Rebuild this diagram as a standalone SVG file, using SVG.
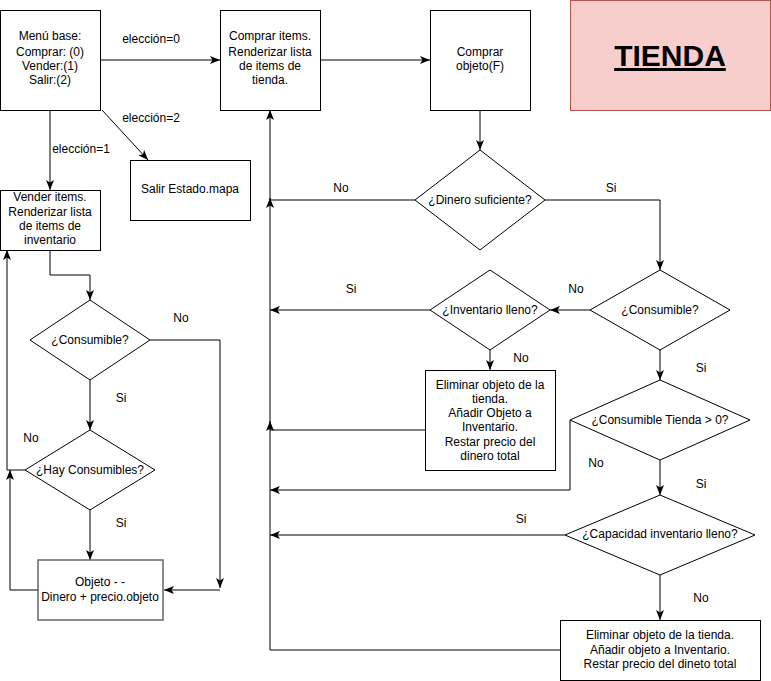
<svg xmlns="http://www.w3.org/2000/svg" width="771" height="681" viewBox="0 0 771 681">
<style>
.n{fill:#ffffff;stroke:#000000;stroke-width:1}
.g{fill:#ffffff;stroke:#666666;stroke-width:1.5}
.e{fill:none;stroke:#000000;stroke-width:1}
text{font-family:"Liberation Sans",Arial,sans-serif;font-size:12px;fill:#000000;text-anchor:middle}
.t{font-size:30px;font-weight:bold;text-decoration:underline}
</style>
<defs>
<marker id="a" markerUnits="userSpaceOnUse" viewBox="0 0 10 8" refX="10" refY="4" markerWidth="10" markerHeight="8" orient="auto">
<path d="M0,0 L10,4 L0,8 L2.5,4 Z" fill="#000000"/>
</marker>
</defs>
<rect width="771" height="681" fill="#ffffff"/>
<g id="edges">
<path class="e" d="M100,60 H220" marker-end="url(#a)"/>
<path class="e" d="M102,110 L148,160" marker-end="url(#a)"/>
<path class="e" d="M50,110 V190" marker-end="url(#a)"/>
<path class="e" d="M320,60 H430" marker-end="url(#a)"/>
<path class="e" d="M480,110 V150" marker-end="url(#a)"/>
<path class="e" d="M415,200 H270 V198" marker-end="url(#a)"/>
<path class="e" d="M545,200 H660 V270" marker-end="url(#a)"/>
<path class="e" d="M590,310 H550" marker-end="url(#a)"/>
<path class="e" d="M430,310 H270" marker-end="url(#a)"/>
<path class="e" d="M490,350 V370" marker-end="url(#a)"/>
<path class="e" d="M425,430 H270 V421" marker-end="url(#a)"/>
<path class="e" d="M660,350 V380" marker-end="url(#a)"/>
<path class="e" d="M570,420 V490 H270" marker-end="url(#a)"/>
<path class="e" d="M660,460 V495" marker-end="url(#a)"/>
<path class="e" d="M565,535 H270" marker-end="url(#a)"/>
<path class="e" d="M660,575 V620" marker-end="url(#a)"/>
<path class="e" d="M560,650 H270 V110" marker-end="url(#a)"/>
<path class="e" d="M50,250 V275 H90 V300" marker-end="url(#a)"/>
<path class="e" d="M150,340 H220 V588" marker-end="url(#a)"/>
<path class="e" d="M220,590 H164" marker-end="url(#a)"/>
<path class="e" d="M90,380 V430" marker-end="url(#a)"/>
<path class="e" d="M25,470 H7 V250" marker-end="url(#a)"/>
<path class="e" d="M90,510 V560" marker-end="url(#a)"/>
<path class="e" d="M38,590 H10 V470" marker-end="url(#a)"/>
<text x="151" y="43">elección=0</text>
<text x="151" y="122">elección=2</text>
<text x="81" y="153">elección=1</text>
<text x="341" y="192">No</text>
<text x="611" y="192">Si</text>
<text x="576" y="293">No</text>
<text x="351" y="293">Si</text>
<text x="521" y="362">No</text>
<text x="701" y="372">Si</text>
<text x="596" y="467">No</text>
<text x="701" y="488">Si</text>
<text x="521" y="523">Si</text>
<text x="701" y="602">No</text>
<text x="181" y="322">No</text>
<text x="121" y="402">Si</text>
<text x="31" y="442">No</text>
<text x="121" y="527">Si</text>
</g>
<g id="menu">
<rect class="n" x="0.5" y="10.5" width="100" height="100"/>
<text x="50" y="40">Menú base:</text>
<text x="50" y="56">Comprar: (0)</text>
<text x="50" y="70">Vender:(1)</text>
<text x="50" y="84">Salir:(2)</text>
</g>
<g id="comprarItems">
<rect class="n" x="220.5" y="10.5" width="100" height="100"/>
<text x="270" y="40">Comprar items.</text>
<text x="270" y="56">Renderizar lista</text>
<text x="270" y="70">de items de</text>
<text x="270" y="84">tienda.</text>
</g>
<g id="comprarObjeto">
<rect class="n" x="430.5" y="10.5" width="100" height="100"/>
<text x="480" y="56">Comprar</text>
<text x="480" y="70">objeto(F)</text>
</g>
<g id="tienda">
<rect x="570.5" y="0.5" width="200" height="110" fill="#f8cecc" stroke="#b85450" stroke-width="1"/>
<text class="t" x="670" y="66">TIENDA</text>
</g>
<g id="salir">
<rect class="n" x="130.5" y="160.5" width="120" height="60"/>
<text x="190" y="193">Salir Estado.mapa</text>
</g>
<g id="venderItems">
<rect class="n" x="0.5" y="190.5" width="100" height="60"/>
<text x="50" y="201">Vender items.</text>
<text x="50" y="216">Renderizar lista</text>
<text x="50" y="230">de items de</text>
<text x="50" y="244">inventario</text>
</g>
<g id="dinero">
<polygon class="n" points="480,150 545,200 480,250 415,200"/>
<text x="480" y="204">¿Dinero suficiente?</text>
</g>
<g id="consumibleR">
<polygon class="n" points="660,270 730,310 660,350 590,310"/>
<text x="660" y="314">¿Consumible?</text>
</g>
<g id="inventarioLleno">
<polygon class="n" points="490,270 550,310 490,350 430,310"/>
<text x="490" y="314">¿Inventario lleno?</text>
</g>
<g id="eliminar1">
<rect class="n" x="425.5" y="370.5" width="130" height="100"/>
<text x="490" y="389">Eliminar objeto de la</text>
<text x="490" y="403">tienda.</text>
<text x="490" y="417">Añadir Objeto a</text>
<text x="490" y="431">Inventario.</text>
<text x="490" y="446">Restar precio del</text>
<text x="490" y="460">dinero total</text>
</g>
<g id="consumibleTienda">
<polygon class="n" points="660,380 750,420 660,460 570,420"/>
<text x="660" y="424">¿Consumible Tienda &gt; 0?</text>
</g>
<g id="capacidad">
<polygon class="n" points="660,495 755,535 660,575 565,535"/>
<text x="660" y="538">¿Capacidad inventario lleno?</text>
</g>
<g id="eliminar2">
<rect class="n" x="560.5" y="620.5" width="200" height="60"/>
<text x="660" y="639">Eliminar objeto de la tienda.</text>
<text x="660" y="654">Añadir objeto a Inventario.</text>
<text x="660" y="668">Restar precio del dineto total</text>
</g>
<g id="consumibleL">
<polygon class="n" points="90,300 150,340 90,380 30,340"/>
<text x="90" y="344">¿Consumible?</text>
</g>
<g id="hayConsumibles">
<polygon class="n" points="90,430 155,470 90,510 25,470"/>
<text x="90" y="474">¿Hay Consumibles?</text>
</g>
<g id="objeto">
<rect class="g" x="38" y="560" width="125" height="60"/>
<text x="100" y="586">Objeto - -</text>
<text x="100" y="601">Dinero + precio.objeto</text>
</g>
</svg>
